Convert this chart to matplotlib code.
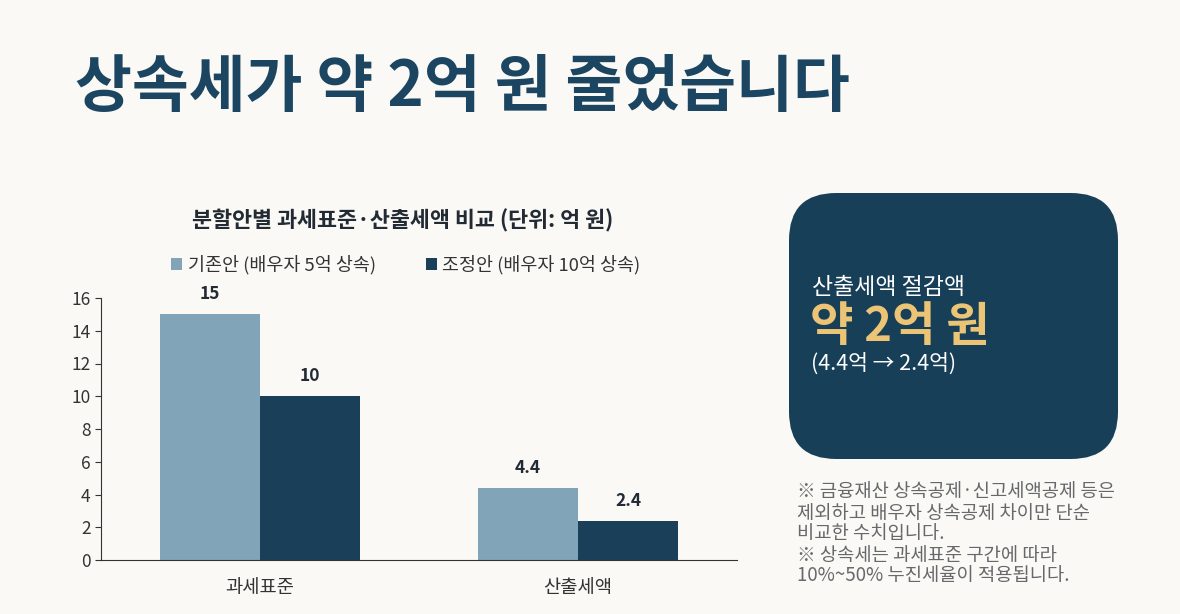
import numpy as np
import matplotlib.pyplot as plt
from matplotlib.patches import FancyBboxPatch

plt.rcParams['font.family'] = ['Noto Sans CJK KR', 'DejaVu Sans']

# data
categories = ['과세표준', '산출세액']
series_names = ['기존안 (배우자 5억 상속)', '조정안 (배우자 10억 상속)']
base_vals = [15, 4.4]
adj_vals = [10, 2.4]
yticks = [0, 2, 4, 6, 8, 10, 12, 14, 16]

bg = '#faf9f5'
navy = '#1a4059'
light = '#82a4b8'
text_dark = '#222a33'

W, H = 1180, 614
fig = plt.figure(figsize=(11.8, 6.14), dpi=100, facecolor=bg)

# big headline
fig.text(75 / W, 1 - 88 / H, '상속세가 약 2억 원 줄었습니다', fontsize=44.5,
         fontweight='bold', color='#1b4561', va='center', ha='left')

# bar chart
ax = fig.add_axes([101 / W, 1 - 560 / H, (737 - 101) / W, (560 - 298) / H])
ax.set_facecolor(bg)
x = np.arange(len(categories))
bw = 0.315
b1 = ax.bar(x - bw / 2, base_vals, bw, color=light, label=series_names[0])
b2 = ax.bar(x + bw / 2, adj_vals, bw, color=navy, label=series_names[1])
for bars, vals in ((b1, base_vals), (b2, adj_vals)):
    for r, v in zip(bars, vals):
        ax.annotate(f'{v:g}', (r.get_x() + r.get_width() / 2, v), xytext=(0, 8),
                    textcoords='offset points', ha='center', va='bottom',
                    fontsize=12.5, fontweight='bold', color=text_dark)
ax.set_xlim(-0.5, 1.5)
ax.set_ylim(0, 16)
ax.set_yticks(yticks)
ax.set_xticks(x)
ax.set_xticklabels(categories, fontsize=13.5, color='#333')
ax.tick_params(axis='x', length=0, pad=12)
ax.tick_params(axis='y', labelsize=12.5, labelcolor='#333', color='#333', length=4)
for s in ('top', 'right'):
    ax.spines[s].set_visible(False)
for s in ('left', 'bottom'):
    ax.spines[s].set_color('#333')

fig.text(403 / W, 1 - 221 / H, '분할안별 과세표준·산출세액 비교 (단위: 억 원)', fontsize=15.7,
         fontweight='bold', color=text_dark, ha='center', va='center')
fig.legend(handles=[b1, b2], loc='center', bbox_to_anchor=(406 / W, 1 - 265 / H),
           ncol=2, frameon=False, fontsize=13.3, handlelength=0.6, handleheight=0.6,
           columnspacing=2.7, handletextpad=0.3, labelcolor='#333')

# highlight box
box = FancyBboxPatch((789 / W, 1 - 459 / H), (1118 - 789) / W, (459 - 193) / H,
                     boxstyle='round,pad=0,rounding_size=0.04',
                     mutation_aspect=W / H, transform=fig.transFigure,
                     facecolor='#183f58', edgecolor='none')
fig.patches.append(box)
fig.text(812 / W, 1 - 288 / H, '산출세액 절감액', fontsize=16.5, color='white',
         ha='left', va='center')
fig.text(810 / W, 1 - 327 / H, '약 2억 원', fontsize=34, fontweight='bold',
         color='#ebc476', ha='left', va='center')
fig.text(811 / W, 1 - 364 / H, '(4.4억 → 2.4억)', fontsize=15.5, color='white',
         ha='left', va='center')

# notes
notes = ['※ 금융재산 상속공제·신고세액공제 등은',
         '제외하고 배우자 상속공제 차이만 단순',
         '비교한 수치입니다.',
         '※ 상속세는 과세표준 구간에 따라',
         '10%~50% 누진세율이 적용됩니다.']
note_y = [492, 513, 534, 555, 576]
for line, yy in zip(notes, note_y):
    fig.text(797 / W, 1 - yy / H, line, fontsize=13.5, color='#66686b',
             ha='left', va='center')

fig.savefig('out.png', dpi=100, facecolor=bg)
